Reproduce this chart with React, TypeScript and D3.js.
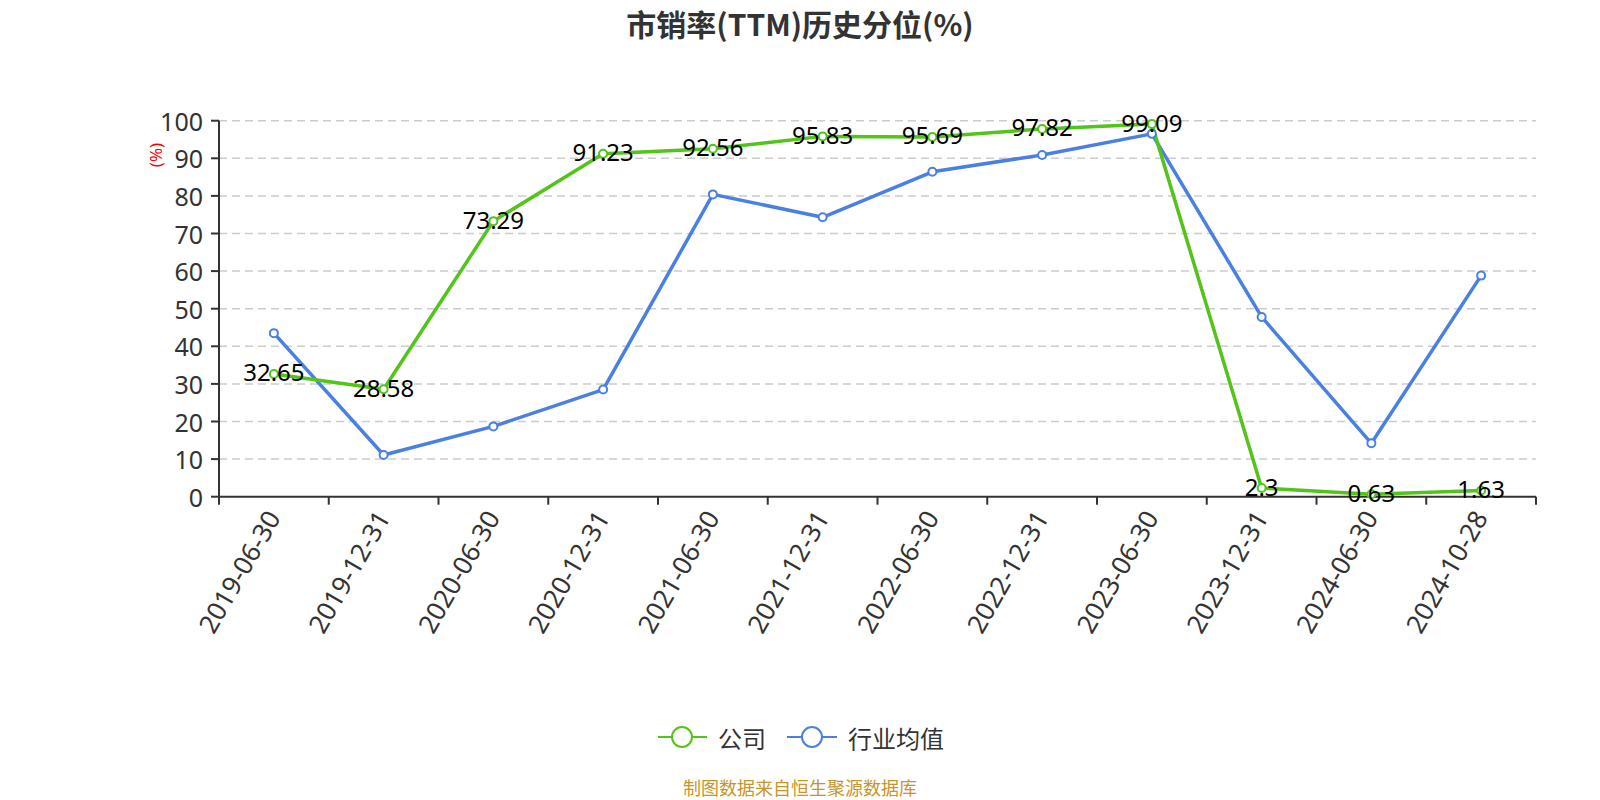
import React from "react";
import * as d3 from "d3";

const categories = ["2019-06-30","2019-12-31","2020-06-30","2020-12-31","2021-06-30","2021-12-31","2022-06-30","2022-12-31","2023-06-30","2023-12-31","2024-06-30","2024-10-28"];
const companyValues = [32.65, 28.58, 73.29, 91.23, 92.56, 95.83, 95.69, 97.82, 99.09, 2.3, 0.63, 1.63];
const industryValues = [43.5, 11.1, 18.7, 28.5, 80.4, 74.3, 86.4, 90.9, 96.5, 47.8, 14.2, 58.8];
const yTicks = [0, 10, 20, 30, 40, 50, 60, 70, 80, 90, 100];

const W = 1600, H = 800;
const left = 219, right = 1536, top = 120.7, bottom = 496.7;
const GREEN = "#52c41a";
const BLUE = "#4a80e0";
const FONT = "'Noto Sans', 'Noto Sans CJK SC', sans-serif";
const CJK = "'Noto Sans CJK SC', sans-serif";

export default function App() {
  const x = d3.scaleBand<string>().domain(categories).range([left, right]);
  const y = d3.scaleLinear().domain([0, 100]).range([bottom, top]);
  const cx = (c: string) => (x(c) as number) + x.bandwidth() / 2;
  const line = d3.line<[number, number]>().x(d => d[0]).y(d => d[1]);
  const gPts = categories.map((c, i) => [cx(c), y(companyValues[i])] as [number, number]);
  const bPts = categories.map((c, i) => [cx(c), y(industryValues[i])] as [number, number]);
  const bounds = categories.map(c => x(c) as number).concat([right]);

  return (
    <svg width={W} height={H} style={{ display: "block", position: "absolute", left: 0, top: 0 }} fontFamily={FONT}>
      <rect width={W} height={H} fill="#fff" />
      <text x={800} y={23} textAnchor="middle" dominantBaseline="central" fontSize={30} fontWeight="bold" fill="#333" fontFamily={CJK}>市销率(TTM)历史分位(%)</text>

      {yTicks.map(t => (
        <g key={t}>
          {t > 0 && <line x1={left} x2={right} y1={y(t)} y2={y(t)} stroke="#ccc" strokeWidth={1.5} strokeDasharray="8,5" />}
          <line x1={left - 8} x2={left} y1={y(t)} y2={y(t)} stroke="#333" strokeWidth={2} />
          <text x={left - 16} y={y(t)} textAnchor="end" dominantBaseline="central" fontSize={25} fill="#333">{t}</text>
        </g>
      ))}
      <text transform={`translate(155,155) rotate(-90)`} textAnchor="middle" dominantBaseline="central" fontSize={17} fill="red">(%)</text>

      <line x1={left} x2={left} y1={top} y2={bottom} stroke="#333" strokeWidth={2} />
      <line x1={left} x2={right} y1={bottom} y2={bottom} stroke="#333" strokeWidth={2} />
      {bounds.map((b, i) => (
        <line key={i} x1={b} x2={b} y1={bottom} y2={bottom + 8} stroke="#333" strokeWidth={2} />
      ))}
      {categories.map(c => (
        <text key={c} transform={`translate(${cx(c) - 1},${bottom + 16}) rotate(-60)`} textAnchor="end" dominantBaseline="central" fontSize={26} fill="#333">{c}</text>
      ))}

      <path d={line(bPts) || ""} fill="none" stroke={BLUE} strokeWidth={3.5} strokeLinejoin="round" />
      <path d={line(gPts) || ""} fill="none" stroke={GREEN} strokeWidth={3.5} strokeLinejoin="round" />
      {bPts.map((p, i) => <circle key={"b" + i} cx={p[0]} cy={p[1]} r={4} fill="#fff" stroke={BLUE} strokeWidth={2} />)}
      {gPts.map((p, i) => <circle key={"g" + i} cx={p[0]} cy={p[1]} r={4} fill="#fff" stroke={GREEN} strokeWidth={2} />)}
      {gPts.map((p, i) => (
        <text key={"l" + i} x={p[0]} y={p[1] - 2} textAnchor="middle" dominantBaseline="central" fontSize={24} fill="#000">{companyValues[i]}</text>
      ))}

      <g>
        <line x1={658} x2={707} y1={737} y2={737} stroke={GREEN} strokeWidth={2} />
        <circle cx={682} cy={737} r={10} fill="#fff" stroke={GREEN} strokeWidth={2} />
        <text x={718} y={737} dominantBaseline="central" fontSize={24} fill="#333" fontFamily={CJK}>公司</text>
        <line x1={787} x2={837} y1={737} y2={737} stroke={BLUE} strokeWidth={2} />
        <circle cx={812} cy={737} r={10} fill="#fff" stroke={BLUE} strokeWidth={2} />
        <text x={848} y={737} dominantBaseline="central" fontSize={24} fill="#333" fontFamily={CJK}>行业均值</text>
      </g>
      <text x={800} y={787} textAnchor="middle" dominantBaseline="central" fontSize={18} fill="#c8952a" fontFamily={CJK}>制图数据来自恒生聚源数据库</text>
    </svg>
  );
}
